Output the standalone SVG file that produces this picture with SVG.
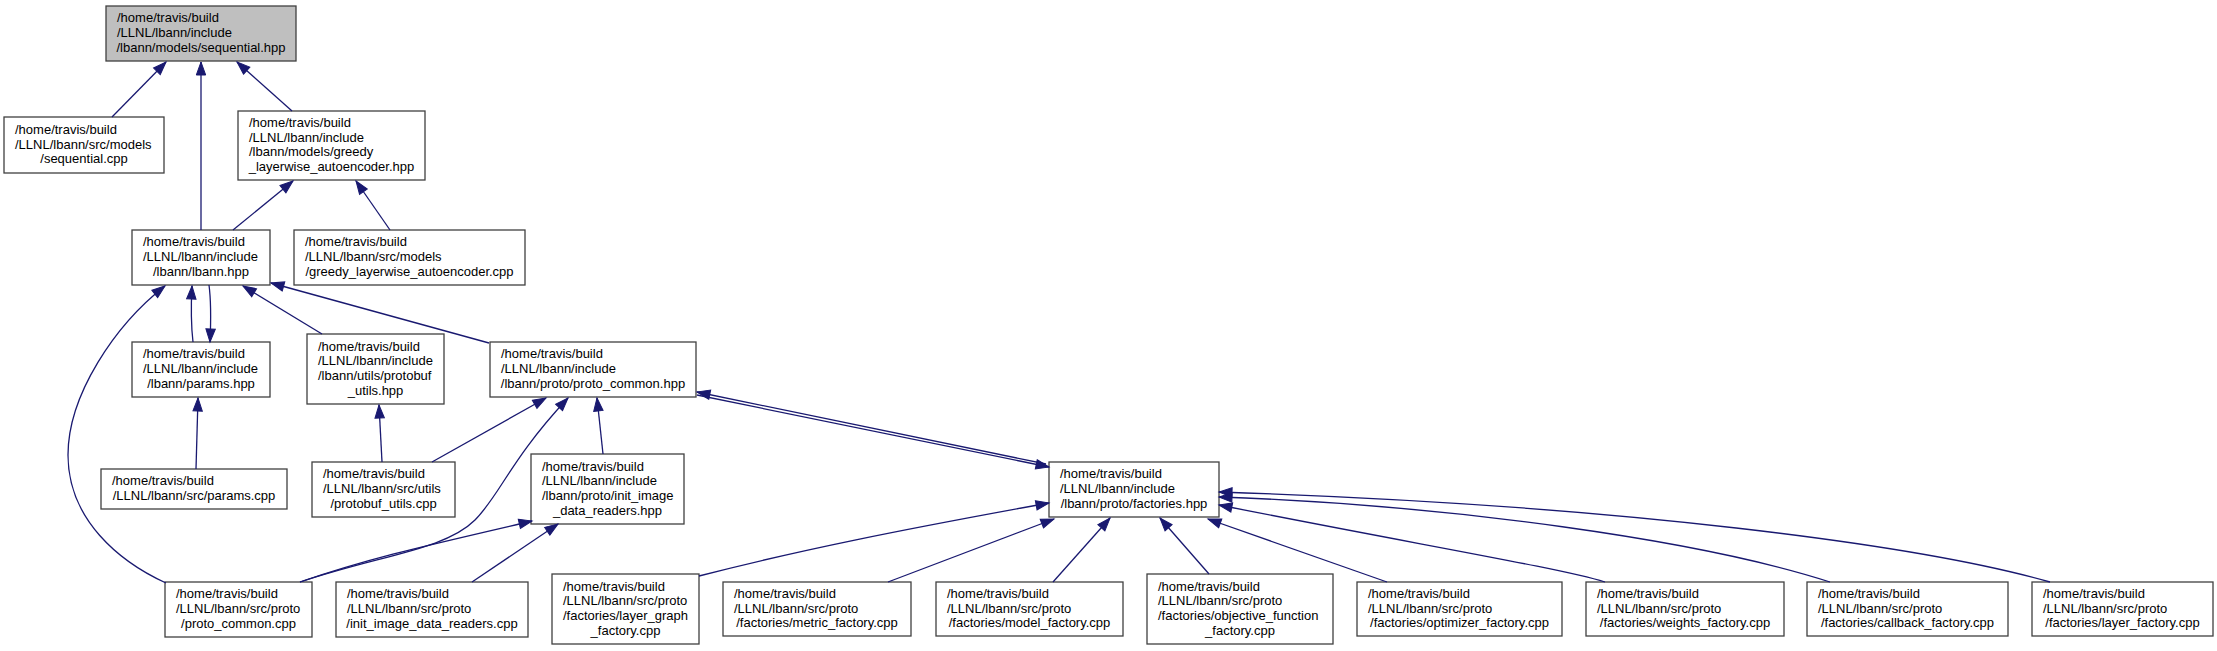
<svg xmlns="http://www.w3.org/2000/svg" width="2217" height="651" viewBox="0 0 2217 651">
<style>
.node rect{fill:#ffffff;stroke:#404040;stroke-width:1.3}
.node rect.main{fill:#bfbfbf}
.node text{font-family:"Liberation Sans",Arial,Helvetica,sans-serif;font-size:13px;fill:#000000}
.node text.c{text-anchor:middle}
.edges path{fill:none;stroke:#191970;stroke-width:1.3;marker-end:url(#ah)}
</style>
<defs>
<marker id="ah" markerUnits="userSpaceOnUse" markerWidth="16" markerHeight="12" refX="13" refY="5" orient="auto" overflow="visible">
<path d="M0,0.3 L13,5 L0,9.7 z" fill="#191970" stroke="#191970" stroke-width="1"/>
</marker>
</defs>
<rect x="0" y="0" width="2217" height="651" fill="#ffffff"/>

<g id="n1" class="node"><rect class="main" x="106" y="6" width="190" height="55"/>
<text x="117" y="22.4">/home/travis/build</text><text x="117" y="37.1">/LLNL/lbann/include</text><text class="c" x="201" y="51.8">/lbann/models/sequential.hpp</text></g>

<g id="n2" class="node"><rect x="4" y="117" width="160" height="56"/>
<text x="15" y="133.9">/home/travis/build</text><text x="15" y="148.6">/LLNL/lbann/src/models</text><text class="c" x="84" y="163.3">/sequential.cpp</text></g>

<g id="n3" class="node"><rect x="238" y="111" width="187" height="69"/>
<text x="249" y="127">/home/travis/build</text><text x="249" y="141.7">/LLNL/lbann/include</text><text x="249" y="156.4">/lbann/models/greedy</text><text class="c" x="331.5" y="171.1">_layerwise_autoencoder.hpp</text></g>

<g id="n4" class="node"><rect x="132" y="230" width="138" height="55"/>
<text x="143" y="246.4">/home/travis/build</text><text x="143" y="261.1">/LLNL/lbann/include</text><text class="c" x="201" y="275.8">/lbann/lbann.hpp</text></g>

<g id="n5" class="node"><rect x="294" y="230" width="231" height="55"/>
<text x="305" y="246.4">/home/travis/build</text><text x="305" y="261.1">/LLNL/lbann/src/models</text><text class="c" x="409.5" y="275.8">/greedy_layerwise_autoencoder.cpp</text></g>

<g id="n6" class="node"><rect x="132" y="342" width="138" height="55"/>
<text x="143" y="358.4">/home/travis/build</text><text x="143" y="373.1">/LLNL/lbann/include</text><text class="c" x="201" y="387.8">/lbann/params.hpp</text></g>

<g id="n7" class="node"><rect x="307" y="334" width="137" height="70"/>
<text x="318" y="350.5">/home/travis/build</text><text x="318" y="365.2">/LLNL/lbann/include</text><text x="318" y="379.9">/lbann/utils/protobuf</text><text class="c" x="375.5" y="394.6">_utils.hpp</text></g>

<g id="n8" class="node"><rect x="490" y="342" width="206" height="55"/>
<text x="501" y="358.4">/home/travis/build</text><text x="501" y="373.1">/LLNL/lbann/include</text><text class="c" x="593" y="387.8">/lbann/proto/proto_common.hpp</text></g>

<g id="n9" class="node"><rect x="101" y="469" width="186" height="40"/>
<text x="112" y="485.2">/home/travis/build</text><text class="c" x="194" y="499.9">/LLNL/lbann/src/params.cpp</text></g>

<g id="n10" class="node"><rect x="312" y="462" width="143" height="55"/>
<text x="323" y="478.4">/home/travis/build</text><text x="323" y="493.1">/LLNL/lbann/src/utils</text><text class="c" x="383.5" y="507.8">/protobuf_utils.cpp</text></g>

<g id="n11" class="node"><rect x="531" y="454" width="153" height="70"/>
<text x="542" y="470.5">/home/travis/build</text><text x="542" y="485.2">/LLNL/lbann/include</text><text x="542" y="499.9">/lbann/proto/init_image</text><text class="c" x="607.5" y="514.6">_data_readers.hpp</text></g>

<g id="n12" class="node"><rect x="1049" y="462" width="170" height="55"/>
<text x="1060" y="478.4">/home/travis/build</text><text x="1060" y="493.1">/LLNL/lbann/include</text><text class="c" x="1134" y="507.8">/lbann/proto/factories.hpp</text></g>

<g id="n13" class="node"><rect x="165" y="582" width="147" height="55"/>
<text x="176" y="598.4">/home/travis/build</text><text x="176" y="613.1">/LLNL/lbann/src/proto</text><text class="c" x="238.5" y="627.8">/proto_common.cpp</text></g>

<g id="n14" class="node"><rect x="336" y="582" width="192" height="55"/>
<text x="347" y="598.4">/home/travis/build</text><text x="347" y="613.1">/LLNL/lbann/src/proto</text><text class="c" x="432" y="627.8">/init_image_data_readers.cpp</text></g>

<g id="n15" class="node"><rect x="552" y="574" width="147" height="70"/>
<text x="563" y="590.5">/home/travis/build</text><text x="563" y="605.2">/LLNL/lbann/src/proto</text><text x="563" y="619.9">/factories/layer_graph</text><text class="c" x="625.5" y="634.6">_factory.cpp</text></g>

<g id="n16" class="node"><rect x="723" y="582" width="188" height="54"/>
<text x="734" y="597.9">/home/travis/build</text><text x="734" y="612.6">/LLNL/lbann/src/proto</text><text class="c" x="817" y="627.3">/factories/metric_factory.cpp</text></g>

<g id="n17" class="node"><rect x="936" y="582" width="187" height="54"/>
<text x="947" y="597.9">/home/travis/build</text><text x="947" y="612.6">/LLNL/lbann/src/proto</text><text class="c" x="1029.5" y="627.3">/factories/model_factory.cpp</text></g>

<g id="n18" class="node"><rect x="1147" y="574" width="186" height="70"/>
<text x="1158" y="590.5">/home/travis/build</text><text x="1158" y="605.2">/LLNL/lbann/src/proto</text><text x="1158" y="619.9">/factories/objective_function</text><text class="c" x="1240" y="634.6">_factory.cpp</text></g>

<g id="n19" class="node"><rect x="1357" y="582" width="205" height="54"/>
<text x="1368" y="597.9">/home/travis/build</text><text x="1368" y="612.6">/LLNL/lbann/src/proto</text><text class="c" x="1459.5" y="627.3">/factories/optimizer_factory.cpp</text></g>

<g id="n20" class="node"><rect x="1586" y="582" width="198" height="54"/>
<text x="1597" y="597.9">/home/travis/build</text><text x="1597" y="612.6">/LLNL/lbann/src/proto</text><text class="c" x="1685" y="627.3">/factories/weights_factory.cpp</text></g>

<g id="n21" class="node"><rect x="1807" y="582" width="201" height="54"/>
<text x="1818" y="597.9">/home/travis/build</text><text x="1818" y="612.6">/LLNL/lbann/src/proto</text><text class="c" x="1907.5" y="627.3">/factories/callback_factory.cpp</text></g>

<g id="n22" class="node"><rect x="2032" y="582" width="181" height="54"/>
<text x="2043" y="597.9">/home/travis/build</text><text x="2043" y="612.6">/LLNL/lbann/src/proto</text><text class="c" x="2122.5" y="627.3">/factories/layer_factory.cpp</text></g>

<g id="edges" class="edges">
<path d="M112,117 L166,62"/>
<path d="M201,230 L201,62"/>
<path d="M292,111 L237,62"/>
<path d="M233,230 L293,181"/>
<path d="M390,230 L356,181"/>
<path d="M193,342 C191,325 191,305 192,286"/>
<path d="M209,285 C211,300 211,320 210,342"/>
<path d="M166,583 C120,562 68,520 68,455 C68,395 115,325 165,286"/>
<path d="M322,334 L243,286"/>
<path d="M489,343 L271,283"/>
<path d="M196,469 L198,398"/>
<path d="M382,462 L379,405"/>
<path d="M432,462 L546,398"/>
<path d="M300,582 C380,555 445,550 475,520 C500,495 510,460 568,398"/>
<path d="M300,582 C370,558 420,547 532,521"/>
<path d="M472,582 L558,524"/>
<path d="M603,454 L597,398"/>
<path d="M1046,464 L697,392"/>
<path d="M697,395 L1049,467"/>
<path d="M699,576 C800,550 900,530 1049,503"/>
<path d="M888,582 L1054,519"/>
<path d="M1053,582 L1110,518"/>
<path d="M1209,574 L1160,518"/>
<path d="M1387,582 L1208,519"/>
<path d="M1605,582 C1560,568 1420,545 1219,505"/>
<path d="M1830,582 C1700,540 1450,505 1219,497"/>
<path d="M2050,582 C1920,545 1620,505 1219,492"/>
</g>
</svg>
